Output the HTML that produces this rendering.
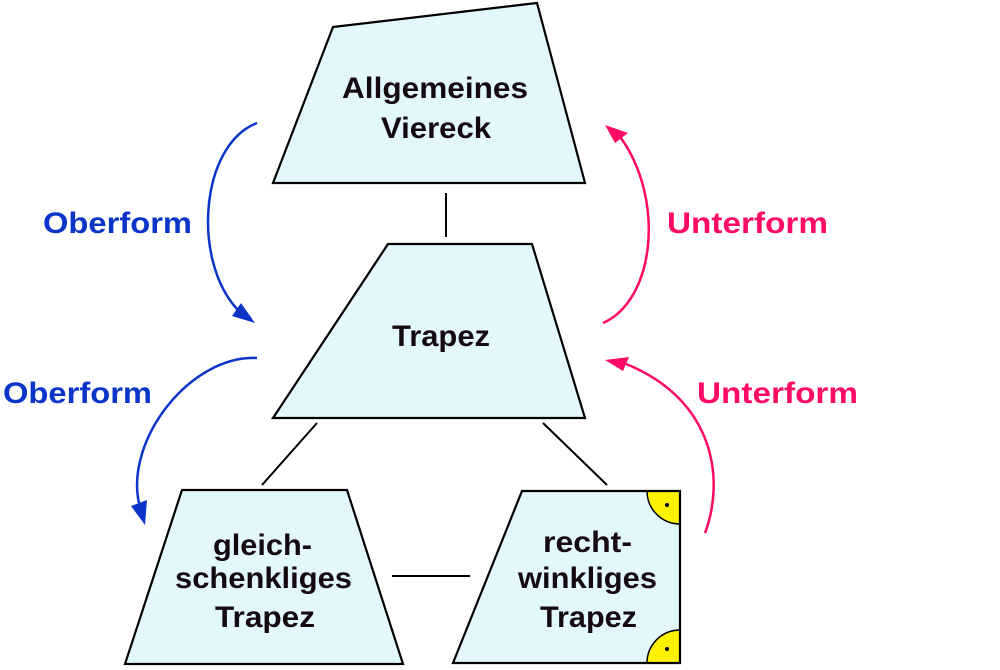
<!DOCTYPE html>
<html>
<head>
<meta charset="utf-8">
<style>
  html, body { margin: 0; padding: 0; background: #ffffff; }
  body { width: 1000px; height: 670px; overflow: hidden; }
  svg { display: block; }
  .t { font-family: "Liberation Sans", "DejaVu Sans", sans-serif; font-weight: bold; font-size: 30px; fill: #150a12; }
  .lb { font-family: "Liberation Sans", "DejaVu Sans", sans-serif; font-weight: bold; font-size: 30px; }
</style>
</head>
<body>
<svg width="1000" height="670" viewBox="0 0 1000 670" xmlns="http://www.w3.org/2000/svg">
  <!-- connectors -->
  <g stroke="#000" stroke-width="2" fill="none">
    <line x1="446" y1="193" x2="446" y2="237"/>
    <line x1="317" y1="423" x2="262" y2="485"/>
    <line x1="543" y1="423" x2="607" y2="485"/>
    <line x1="392" y1="576" x2="470" y2="576"/>
  </g>

  <!-- Allgemeines Viereck -->
  <polygon points="333,27 537,3 585,183 273,183" fill="#e2f8fd" stroke="#000" stroke-width="2.2" stroke-linejoin="miter"/>
  <text class="t" x="342" y="98" textLength="186" lengthAdjust="spacingAndGlyphs">Allgemeines</text>
  <text class="t" x="381" y="138" textLength="110" lengthAdjust="spacingAndGlyphs">Viereck</text>

  <!-- Trapez -->
  <polygon points="388,244 532,244 585,418 273,418" fill="#e2f8fd" stroke="#000" stroke-width="2.2"/>
  <text class="t" x="392" y="346" textLength="98" lengthAdjust="spacingAndGlyphs">Trapez</text>

  <!-- gleichschenkliges Trapez -->
  <polygon points="182,490 347,490 403,664 125,664" fill="#e2f8fd" stroke="#000" stroke-width="2.2"/>
  <text class="t" x="213" y="555" textLength="99" lengthAdjust="spacingAndGlyphs">gleich-</text>
  <text class="t" x="175" y="588" textLength="177" lengthAdjust="spacingAndGlyphs">schenkliges</text>
  <text class="t" x="215" y="627" textLength="100" lengthAdjust="spacingAndGlyphs">Trapez</text>

  <!-- rechtwinkliges Trapez -->
  <polygon points="522,491 680,491 680,663 453,663" fill="#e2f8fd"/>
  <path d="M647,491 A33,33 0 0 0 680,524 L680,491 Z" fill="#fff200" stroke="#000" stroke-width="1.5"/>
  <path d="M680,630 A33,33 0 0 0 647,663 L680,663 Z" fill="#fff200" stroke="#000" stroke-width="1.5"/>
  <circle cx="667" cy="505" r="2" fill="#000"/>
  <circle cx="667" cy="649" r="2" fill="#000"/>
  <polygon points="522,491 680,491 680,663 453,663" fill="none" stroke="#000" stroke-width="2.2"/>
  <text class="t" x="543" y="552" textLength="89" lengthAdjust="spacingAndGlyphs">recht-</text>
  <text class="t" x="518" y="588" textLength="139" lengthAdjust="spacingAndGlyphs">winkliges</text>
  <text class="t" x="540" y="627" textLength="97" lengthAdjust="spacingAndGlyphs">Trapez</text>

  <!-- blue arrows (Oberform) -->
  <g stroke="#0a35c8" stroke-width="2.5" fill="none">
    <path d="M257,123 C200,145 192,260 237,309"/>
    <path d="M257,358 C190,355 125,440 139,503"/>
  </g>
  <polygon points="255,323 232,316 241,303" fill="#0a35c8"/>
  <polygon points="145,525 131,506 147,500" fill="#0a35c8"/>
  <text class="lb" x="43" y="233" fill="#0a35c8" textLength="149" lengthAdjust="spacingAndGlyphs">Oberform</text>
  <text class="lb" x="3" y="403" fill="#0a35c8" textLength="149" lengthAdjust="spacingAndGlyphs">Oberform</text>

  <!-- pink arrows (Unterform) -->
  <g stroke="#ff0a64" stroke-width="2.5" fill="none">
    <path d="M603,323 C655,300 665,200 621,138"/>
    <path d="M705,533 C725,480 715,400 626,364"/>
  </g>
  <polygon points="605,125 615,143 628,133" fill="#ff0a64"/>
  <polygon points="605,360 629,357 623,371" fill="#ff0a64"/>
  <text class="lb" x="667" y="233" fill="#ff0a64" textLength="161" lengthAdjust="spacingAndGlyphs">Unterform</text>
  <text class="lb" x="697" y="403" fill="#ff0a64" textLength="161" lengthAdjust="spacingAndGlyphs">Unterform</text>
</svg>
</body>
</html>
